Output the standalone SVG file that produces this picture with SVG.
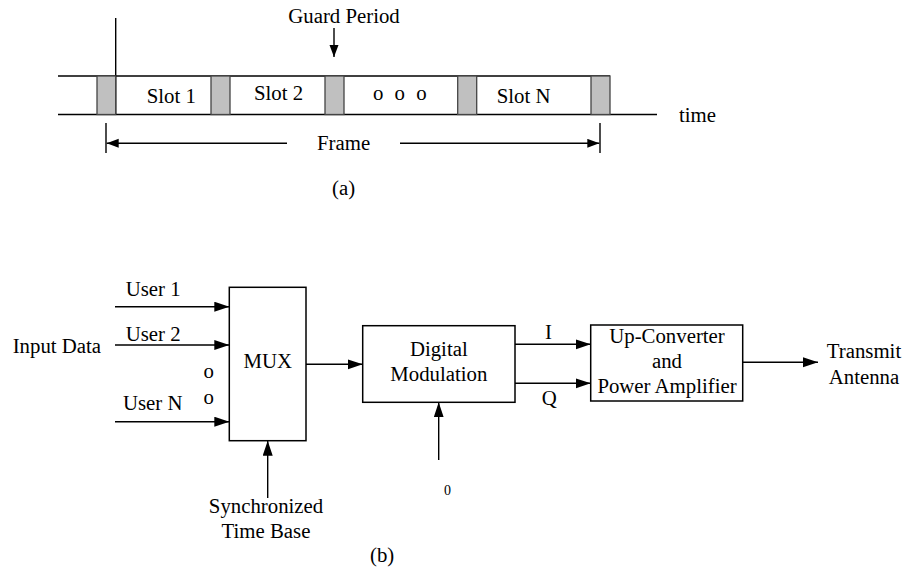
<svg xmlns="http://www.w3.org/2000/svg" width="911" height="571" viewBox="0 0 911 571">
  <style>
    text { font-family: "Liberation Serif", "Times New Roman", serif; font-size: 20.8px; fill: #000; }
    .ln { stroke: #000; stroke-width: 1.4; fill: none; }
    .box { stroke: #000; stroke-width: 1.5; fill: #fff; }
    .guard { stroke: #444; stroke-width: 1.3; fill: #c0c0c0; }
    .mid { text-anchor: middle; }
    .small { font-size: 14px; }
  </style>
  <defs>
    <marker id="arrow" markerUnits="userSpaceOnUse" markerWidth="16" markerHeight="11" refX="15" refY="5" orient="auto">
      <path d="M0,0 L15,5 L0,10 z" fill="#000"/>
    </marker>
    <marker id="arrowSm" markerUnits="userSpaceOnUse" markerWidth="13" markerHeight="10" refX="12" refY="4.5" orient="auto">
      <path d="M0,0 L12,4.5 L0,9 z" fill="#000"/>
    </marker>
  </defs>

  <!-- (a) frame structure on the time axis -->
  <g id="timeline">
    <line class="ln" x1="58" y1="76" x2="610" y2="76"/>
    <line class="ln" x1="58" y1="114.5" x2="657" y2="114.5"/>
    <line class="ln" x1="115.7" y1="18" x2="115.7" y2="114.5"/>
  </g>
  <g id="guard-periods">
    <rect class="guard" x="97" y="76" width="18.7" height="38.5"/>
    <rect class="guard" x="211" y="76" width="19" height="38.5"/>
    <rect class="guard" x="325" y="76" width="19" height="38.5"/>
    <rect class="guard" x="457.7" y="76" width="19" height="38.5"/>
    <rect class="guard" x="591" y="76" width="19" height="38.5"/>
  </g>
  <g id="slots">
    <text x="146.7" y="103">Slot 1</text>
    <text x="254" y="100">Slot 2</text>
    <text x="373" y="100" word-spacing="6">o o o</text>
    <text x="496.7" y="103">Slot N</text>
  </g>
  <text id="time-label" x="679" y="121.5">time</text>
  <g id="guard-label">
    <text x="288.3" y="23">Guard Period</text>
  </g>
  <g id="frame-span">
    <line class="ln" x1="106" y1="123" x2="106" y2="153"/>
    <line class="ln" x1="600" y1="123" x2="600" y2="153"/>
    <text x="317" y="150">Frame</text>
  </g>
  <text id="caption-a" x="332" y="195">(a)</text>

  <!-- (b) transmitter block diagram -->
  <g id="mux">
    <rect class="box" x="229.3" y="287.3" width="76.7" height="153.4"/>
    <text class="mid" x="267.7" y="368">MUX</text>
  </g>
  <g id="digital-modulation">
    <rect class="box" x="362.7" y="325.7" width="152.3" height="76.6"/>
    <text class="mid" x="438.8" y="356">Digital</text>
    <text class="mid" x="438.8" y="380.7">Modulation</text>
  </g>
  <g id="up-converter">
    <rect class="box" x="590.7" y="325" width="152" height="76"/>
    <text class="mid" x="667" y="343">Up-Converter</text>
    <text class="mid" x="667" y="368">and</text>
    <text class="mid" x="667" y="392.7">Power Amplifier</text>
  </g>
  <g id="inputs">
    <text x="12.7" y="352.7">Input Data</text>
    <text x="125.7" y="296">User 1</text>
    <text x="125.7" y="341">User 2</text>
    <text x="123" y="410">User N</text>
    <text x="203.5" y="378.3">o</text>
    <text x="203.5" y="404">o</text>
  </g>
  <g id="sync-base">
    <text class="mid" x="266" y="513">Synchronized</text>
    <text class="mid" x="266" y="538">Time Base</text>
  </g>
  <g id="antenna">
    <text class="mid" x="864" y="358">Transmit</text>
    <text class="mid" x="864" y="384">Antenna</text>
  </g>
  <g id="io-labels">
    <text x="545" y="339.3">I</text>
    <text x="541.7" y="404.5">Q</text>
    <text class="small" x="444" y="495">0</text>
  </g>
  <text id="caption-b" x="370" y="562">(b)</text>

  <g id="connectors">
    <line class="ln" x1="334" y1="28" x2="334" y2="57" marker-end="url(#arrowSm)"/>
    <line class="ln" x1="287" y1="143.3" x2="106.7" y2="143.3" marker-end="url(#arrowSm)"/>
    <line class="ln" x1="400" y1="143.3" x2="599.3" y2="143.3" marker-end="url(#arrowSm)"/>
    <line class="ln" x1="115" y1="306.7" x2="229.3" y2="306.7" marker-end="url(#arrow)"/>
    <line class="ln" x1="115" y1="345" x2="229.3" y2="345" marker-end="url(#arrow)"/>
    <line class="ln" x1="115" y1="421.7" x2="229.3" y2="421.7" marker-end="url(#arrow)"/>
    <line class="ln" x1="306" y1="364.3" x2="362.7" y2="364.3" marker-end="url(#arrow)"/>
    <line class="ln" x1="267.7" y1="498" x2="267.7" y2="440.7" marker-end="url(#arrow)"/>
    <line class="ln" x1="515" y1="344.3" x2="590.7" y2="344.3" marker-end="url(#arrow)"/>
    <line class="ln" x1="515" y1="383.3" x2="590.7" y2="383.3" marker-end="url(#arrow)"/>
    <line class="ln" x1="438.7" y1="460" x2="438.7" y2="402.3" marker-end="url(#arrow)"/>
    <line class="ln" x1="742.7" y1="362.3" x2="818" y2="362.3" marker-end="url(#arrow)"/>
  </g>
</svg>
